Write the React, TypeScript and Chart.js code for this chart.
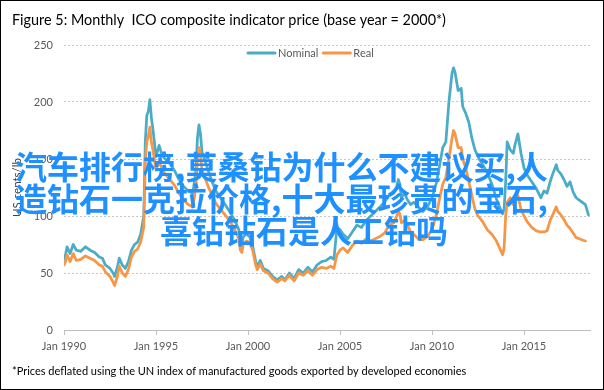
import React, { useEffect, useRef } from "react";
import { Chart, registerables } from "chart.js";

Chart.register(...registerables);

const TITLE = "Figure 5: Monthly  ICO composite indicator price (base year = 2000*)";
const FOOTNOTE =
  "*Prices deflated using the UN index of manufactured goods exported by developed economies";
const Y_TITLE = "US cents/lb";
const SERIES_LABELS = ["Nominal", "Real"];
const OVERLAY_LINES = [
  "汽车排行榜,莫桑钻为什么不建议买,人",
  "造钻石一克拉价格,十大最珍贵的宝石,",
  "喜钻钻石是人工钻吗",
];

const START_YEAR = 1990;
const X_TICK_YEARS = [1990, 1995, 2000, 2005, 2010, 2015];
const Y_TICKS = [0, 50, 100, 150, 200, 250];

// months since Jan 1990
const MONTHS = [
  0, 1, 2, 4, 6, 8, 11, 14, 17, 20, 23, 25, 27, 30, 32, 33, 35, 36, 38, 40, 42, 44, 46, 48, 50,
  52, 53, 54, 55, 56, 57, 58, 60, 62, 64, 66, 69, 72, 75, 78, 81, 84, 86, 87, 88, 89, 90, 92, 94,
  96, 99, 102, 105, 108, 111, 114, 115, 116, 117, 119, 121, 123, 125, 126, 128, 130, 133, 136,
  139, 142, 144, 147, 150, 153, 156, 159, 162, 165, 168, 171, 174, 176, 178, 180, 182, 185, 188,
  191, 194, 197, 200, 203, 206, 209, 212, 215, 217, 218, 219, 220, 222, 224, 226, 228, 231, 234,
  237, 240, 243, 245, 247, 249, 251, 253, 254, 255, 257, 259, 260, 262, 264, 266, 268, 270, 273,
  276, 279, 282, 284, 286, 287, 288, 289, 291, 293, 294, 296, 298, 300, 302, 305, 308, 311, 313,
  315, 317, 319, 321, 322, 324, 326, 328, 330, 332, 334, 336, 338, 340, 342,
];

const NOMINAL = [
  62, 66, 73, 67, 75, 70, 69, 73, 70, 68, 64, 63, 57, 54, 50, 47, 56, 63, 57, 54, 60, 70, 75, 77, 84,
  100, 165, 188, 192, 202, 186, 176, 152, 162, 153, 150, 146, 140, 132, 126, 122, 120, 140, 168, 180,
  172, 156, 148, 140, 132, 122, 116, 110, 104, 97, 88, 78, 76, 82, 84, 82, 74, 60, 56, 61, 54, 52,
  47, 44, 47, 44, 50, 45, 53, 50, 55, 51, 57, 60, 61, 64, 62, 90, 88, 84, 80, 86, 92, 90, 96, 100,
  104, 108, 112, 118, 120, 126, 132, 128, 116, 120, 114, 110, 112, 108, 104, 108, 116, 130, 145, 160,
  165, 200, 225, 230, 226, 210, 212, 196, 190, 182, 168, 158, 152, 145, 138, 128, 115, 108, 102, 106,
  130, 165, 158, 155, 162, 172, 155, 142, 136, 130, 124, 116, 122, 120, 130, 138, 145, 140, 137, 132,
  126, 130, 121, 116, 114, 112, 110, 101,
];

const REAL = [
  57, 60, 66, 60, 67, 61, 62, 65, 63, 61, 57, 56, 51, 47, 42, 39, 48, 56, 50, 47, 53, 64, 69, 71, 77,
  90, 148, 165, 170, 178, 165, 158, 140, 148, 141, 137, 132, 127, 120, 114, 110, 108, 125, 150, 160,
  153, 140, 133, 126, 120, 111, 106, 101, 96, 89, 80, 70, 68, 76, 78, 77, 70, 57, 53, 58, 52, 50, 45,
  42, 45, 43, 48, 43, 50, 48, 52, 48, 53, 55, 54, 56, 54, 66, 70, 72, 68, 74, 78, 76, 80, 78, 80, 82,
  85, 92, 94, 100, 104, 102, 94, 96, 92, 86, 84, 80, 79, 82, 88, 102, 116, 128, 134, 150, 168, 175,
  172, 160, 160, 150, 142, 130, 118, 106, 100, 95, 88, 84, 78, 72, 66, 72, 100, 112, 116, 110, 114,
  118, 106, 100, 95, 90, 87, 86, 86, 87, 96, 102, 108, 104, 101, 97, 92, 89, 85, 81, 80, 79, 78, null,
];

const COLORS = ["#4BACC6", "#F79646"];

export default function App() {
  const ref = useRef<HTMLCanvasElement>(null);

  useEffect(() => {
    document.body.style.margin = "0";
    const canvas = ref.current;
    if (!canvas) return;

    const textPlugin = {
      id: "extraTexts",
      afterDraw(chart: any) {
        const ctx = chart.ctx as CanvasRenderingContext2D;
        ctx.save();
        ctx.textAlign = "left";
        ctx.textBaseline = "middle";
        // title
        ctx.fillStyle = "#000000";
        ctx.font = "14.4px Lato";
        ctx.fillText(TITLE, 11, 19);
        // footnote
        ctx.font = "11px Lato";
        ctx.fillText(FOOTNOTE, 11, 370);
        // legend inside plot area
        ctx.font = "11px Lato";
        let lx = 247;
        const ly = 52;
        chart.data.datasets.forEach((ds: any) => {
          ctx.strokeStyle = ds.borderColor;
          ctx.lineWidth = 3;
          ctx.lineCap = "round";
          ctx.beginPath();
          ctx.moveTo(lx, ly);
          ctx.lineTo(lx + 27, ly);
          ctx.stroke();
          ctx.fillStyle = "#595959";
          ctx.fillText(ds.label, lx + 30, ly);
          lx += 30 + ctx.measureText(ds.label).width + 5;
        });
        // overlay text
        ctx.font = "bold 32px 'Noto Sans CJK SC'";
        ctx.fillStyle = "#1E90FF";
        ctx.fillText(OVERLAY_LINES[0], 14, 166);
        ctx.fillText(OVERLAY_LINES[1], 14, 197.5);
        ctx.fillText(OVERLAY_LINES[2], 159, 229.5);
        ctx.restore();
      },
    };

    const chart = new Chart(canvas, {
      type: "line",
      data: {
        datasets: [
          {
            label: SERIES_LABELS[0],
            data: MONTHS.map((m, i) => ({ x: m, y: NOMINAL[i] })),
            borderColor: COLORS[0],
            backgroundColor: COLORS[0],
            borderWidth: 2.75,
            pointRadius: 0,
            order: 1,
          },
          {
            label: SERIES_LABELS[1],
            data: MONTHS.map((m, i) => ({ x: m, y: REAL[i] })),
            borderColor: COLORS[1],
            backgroundColor: COLORS[1],
            borderWidth: 2.75,
            pointRadius: 0,
            order: 0,
          },
        ],
      },
      options: {
        responsive: false,
        animation: false,
        events: [],
        layout: { padding: { left: 0, right: 13, top: 44, bottom: 0 } },
        elements: { line: { tension: 0, borderJoinStyle: "round", borderCapStyle: "round" } },
        plugins: {
          legend: { display: false },
          tooltip: { enabled: false },
          title: { display: false },
        },
        scales: {
          x: {
            type: "linear",
            min: 0,
            max: 343,
            afterBuildTicks: (s: any) => {
              s.ticks = X_TICK_YEARS.map((y) => ({ value: (y - START_YEAR) * 12 }));
            },
            afterFit: (s: any) => {
              s.height = 59;
            },
            ticks: {
              callback: (v: any) => "Jan " + (START_YEAR + Math.round(Number(v) / 12)),
              color: "#595959",
              font: { family: "Lato", size: 11 },
              padding: 5,
              maxRotation: 0,
              autoSkip: false,
            },
            grid: {
              drawOnChartArea: false,
              drawTicks: true,
              tickLength: 5,
              color: "#BFBFBF",
            },
            border: { display: true, color: "#BFBFBF", width: 1 },
          },
          y: {
            min: 0,
            max: 250,
            afterBuildTicks: (s: any) => {
              s.ticks = Y_TICKS.map((v) => ({ value: v }));
            },
            afterFit: (s: any) => {
              s.width = 63;
            },
            ticks: {
              color: "#595959",
              font: { family: "Lato", size: 11 },
              padding: 11,
            },
            grid: {
              drawTicks: false,
              color: (c: any) => (c.tick && c.tick.value === 0 ? "rgba(0,0,0,0)" : "#C8C8C8"),
              lineWidth: 1,
            },
            border: { display: false, dash: [2, 2] },
            title: {
              display: true,
              text: Y_TITLE,
              color: "#404040",
              font: { family: "Lato", size: 11.5 },
              padding: { top: 9, bottom: 0 },
            },
          },
        },
      },
      plugins: [textPlugin],
    });

    return () => chart.destroy();
  }, []);

  return (
    <div
      style={{
        width: 604,
        height: 390,
        boxSizing: "border-box",
        border: "1px solid #000",
        background: "#fff",
        position: "relative",
      }}
    >
      <canvas ref={ref} width={602} height={388} style={{ display: "block", width: 602, height: 388 }} />
    </div>
  );
}
